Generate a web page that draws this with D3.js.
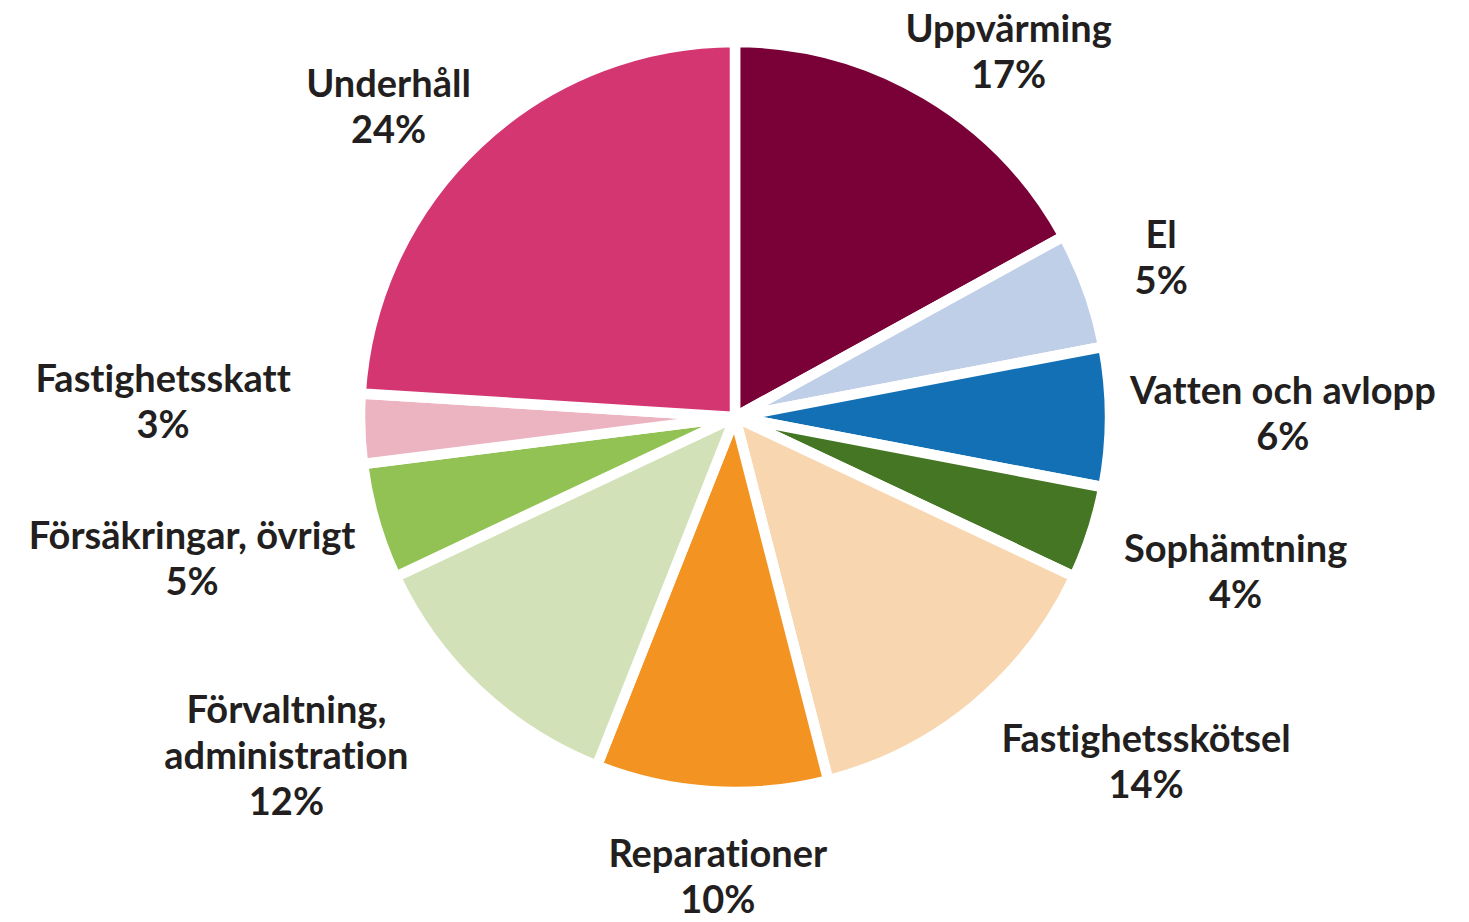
<!DOCTYPE html>
<html lang="sv">
<head>
    <meta charset="UTF-8">
    <title>Kostnader</title>
    <style>
        body { margin: 0; background: #fff; }
    </style>
</head>
<body></body>
<script src="https://cdn.jsdelivr.net/npm/d3@7"></script>
<script>
    // data
    const categories = ["Uppvärming", "El", "Vatten och avlopp", "Sophämtning", "Fastighetsskötsel",
        "Reparationer", "Förvaltning,\nadministration", "Försäkringar, övrigt", "Fastighetsskatt", "Underhåll"];
    const shares = [17, 5, 6, 4, 14, 10, 12, 5, 3, 24];
    const colors = ["#7a0038", "#c0cfe8", "#1470b5", "#447623", "#f8d7b0",
        "#f39322", "#d2e1b7", "#92c254", "#ecb3c0", "#d43672"];

    // small hand nudges for the label boxes (like excel's best fit)
    const labelNudge = [[20, 0], [6, -10], [-12, -5], [0, -10], [71, -68],
        [12, 3], [-79, -57], [10, -21], [-37, -34], [-7, 49]];

    let width = 1469;
    let height = 922;
    let cx = 735, cy = 417, r = 370;

    let svg = d3.select("body")
                .append("svg")
                .attr("width", width)
                .attr("height", height);

    const pie = d3.pie().sort(null).value(d => d);
    const arcs = pie(shares);
    const arc = d3.arc().innerRadius(0).outerRadius(r + 5);

    const g = svg.append("g").attr("transform", `translate(${cx},${cy})`);

    g.selectAll("path")
        .data(arcs)
        .enter().append("path")
        .attr("d", arc)
        .style("fill", (d, i) => colors[i])
        .style("stroke", "#fff")
        .style("stroke-width", 10.5)
        .style("stroke-linejoin", "round");

    // labels, placed outside along the mid angle
    const pad = 36;
    arcs.forEach((d, i) => {
        const lines = categories[i].split("\n").concat([shares[i] + "%"]);
        const t = svg.append("text")
            .attr("text-anchor", "middle")
            .style("font-family", "Lato, sans-serif")
            .style("font-weight", 700)
            .style("font-size", "38px")
            .style("font-variant-ligatures", "none")
            .style("fill", "#231f20");
        lines.forEach((s, k) => {
            t.append("tspan").attr("x", 0).attr("y", k * 46).text(s);
        });
        const bb = t.node().getBBox();
        const a = (d.startAngle + d.endAngle) / 2;
        const dist = r + pad + Math.abs(Math.sin(a)) * bb.width / 2 + Math.abs(Math.cos(a)) * bb.height / 2;
        let x = cx + Math.sin(a) * dist;
        let y = cy - Math.cos(a) * dist;
        x = Math.max(bb.width / 2 + 8, Math.min(width - 8 - bb.width / 2, x));
        y = Math.max(bb.height / 2 + 4, Math.min(height - 4 - bb.height / 2, y));
        x += labelNudge[i][0];
        y += labelNudge[i][1];
        t.attr("transform", `translate(${x - (bb.x + bb.width / 2)},${y - (bb.y + bb.height / 2)})`);
    });
</script>
</html>
